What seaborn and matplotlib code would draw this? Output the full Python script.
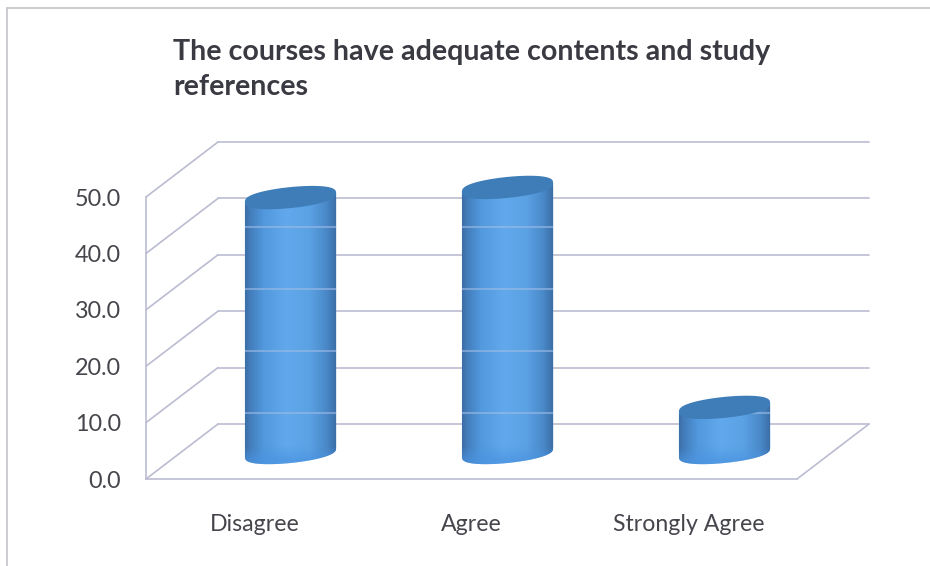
import numpy as np
import pandas as pd
import matplotlib
matplotlib.use('Agg')
import matplotlib.pyplot as plt
from matplotlib.lines import Line2D
from matplotlib.patches import Polygon
from matplotlib.colors import LinearSegmentedColormap
import seaborn as sns

# Values
categories = ['Disagree', 'Agree', 'Strongly Agree']
values = [45.2, 47.0, 8.0]
y_ticks = [0, 10, 20, 30, 40, 50]
# faint pale bands that show through the cylinders
band_levels = [40, 29, 18, 7]
title = 'The courses have adequate contents and study\nreferences'

W, H = 930, 566
GRID = '#bbbcd2'
TEXT = '#45454c'


def px_axes(x0, x1, y_top, y_bottom):
    # axes placed from pixel positions of the reference
    return fig.add_axes([x0 / W, 1 - y_bottom / H, (x1 - x0) / W, (y_bottom - y_top) / H])


sns.set_style('white')
plt.rcParams['font.family'] = ['Lato', 'DejaVu Sans']

fig = plt.figure(figsize=(W / 100, H / 100), dpi=100, facecolor='white')

# Front plane of the 3D box: labels live here
ax = px_axes(146, 797, 197, 479)
ax.set_xlim(-0.5, 2.5)
ax.set_ylim(0, 50)
ax.patch.set_alpha(0)
sns.despine(ax=ax, top=True, right=True)
for side in ['left', 'bottom']:
    ax.spines[side].set_color(GRID)
    ax.spines[side].set_linewidth(1.2)
ax.set_xticks(range(len(categories)))
ax.set_xticklabels(categories, fontsize=16.7, color=TEXT)
ax.set_yticks(y_ticks)
ax.set_yticklabels([f'{t:.1f}' for t in y_ticks], fontsize=16.8, color=TEXT)
ax.tick_params(axis='x', length=0, pad=25)
ax.tick_params(axis='y', length=0, pad=18)

# Walls and floor, offset backwards by the depth of the box
depth_x = 72 / (651 / 3)
depth_y = 55 / (282 / 50)
for t in y_ticks:
    ax.plot([-0.5, -0.5 + depth_x], [t, t + depth_y], color=GRID, lw=1.2, clip_on=False)
    ax.plot([-0.5 + depth_x, 2.5 + depth_x], [t + depth_y, t + depth_y], color=GRID, lw=1.2, clip_on=False)
ax.plot([2.5, 2.5 + depth_x], [0, depth_y], color=GRID, lw=1.2, clip_on=False)

# Bars stand half way into the box, so they get their own shifted axes
scale = 282 / 50
base_px = 452.5
bar_ax = px_axes(182, 833, base_px - 55 * scale, base_px + 5 * scale)
df = pd.DataFrame({'category': categories, 'value': values})
sns.barplot(data=df, x='category', y='value', color='#4f95d8', width=0.42, saturation=1, ax=bar_ax)
bar_ax.set_xlim(-0.5, 2.5)
bar_ax.set_ylim(-5, 55)
bar_ax.axis('off')
bar_ax.patch.set_alpha(0)

side_cmap = LinearSegmentedColormap.from_list(
    'side', [(0, '#3d6ea6'), (0.07, '#4580bf'), (0.2, '#5198dc'), (0.45, '#61a9ec'),
             (0.7, '#5ba2e4'), (0.88, '#4a8aca'), (1, '#3a6ca4')])
top_color = '#3f7db9'
bottom_rim = '#4a93e0'
ell_h = 10.5 / scale
ell_tilt = 4.5 / scale
angles = np.linspace(0, 2 * np.pi, 181)
# slightly fuller than a true ellipse, as in the reference
bulge = np.sign(np.sin(angles)) * np.abs(np.sin(angles)) ** 0.75

for patch in bar_ax.patches:
    x0, w, v = patch.get_x(), patch.get_width(), patch.get_height()
    cx = x0 + w / 2
    ex = cx + w / 2 * np.cos(angles)
    shear = ell_tilt * np.cos(angles)
    lower = angles >= np.pi
    # outline of the body: lower half of the base ellipse, then back along the top
    body = np.vstack([
        np.column_stack([ex[lower], ell_h * bulge[lower] + shear[lower]]),
        np.column_stack([ex[lower][::-1], v + shear[lower][::-1]]),
    ])
    body_patch = Polygon(body, closed=True, facecolor=bottom_rim, edgecolor='none', zorder=3)
    bar_ax.add_patch(body_patch)
    patch.set_clip_path(body_patch)

    # side shading, fading out to the brighter rim at the foot
    y_rows = np.linspace(v + 2, -5, 200)
    rgba = np.repeat(side_cmap(np.linspace(0, 1, 256))[np.newaxis, :, :], len(y_rows), axis=0)
    rgba[:, :, 3] = np.clip((y_rows[:, np.newaxis] + 2.5) / 3.5, 0.35, 1)
    img = bar_ax.imshow(rgba, aspect='auto', extent=[x0, x0 + w, -5, v + 2],
                        zorder=4, interpolation='bilinear')
    img.set_clip_path(body_patch)

    # pale bands across the body
    for lev in band_levels:
        if lev < v:
            band = bar_ax.plot([x0, x0 + w], [lev, lev], color='#9dbbe6', lw=1.5, alpha=0.6, zorder=5)[0]
            band.set_clip_path(body_patch)

    # top of the cylinder
    top = np.column_stack([ex, v + ell_h * bulge + shear])
    bar_ax.add_patch(Polygon(top, closed=True, facecolor=top_color, edgecolor='none', zorder=6))

bar_ax.set_xlim(-0.5, 2.5)
bar_ax.set_ylim(-5, 55)

fig.text(173 / W, 1 - 39 / H, title, ha='left', va='top', fontsize=20.6, fontweight='bold',
         color='#3a3a42', linespacing=1.42)

# Frame of the chart area
fig.add_artist(Line2D([7 / W, 7 / W], [0, 1 - 8 / H], color='#c4c4ca', lw=1.2))
fig.add_artist(Line2D([7 / W, 1], [1 - 8 / H, 1 - 8 / H], color='#c4c4ca', lw=1.2))

fig.savefig('out.png', dpi=100)
